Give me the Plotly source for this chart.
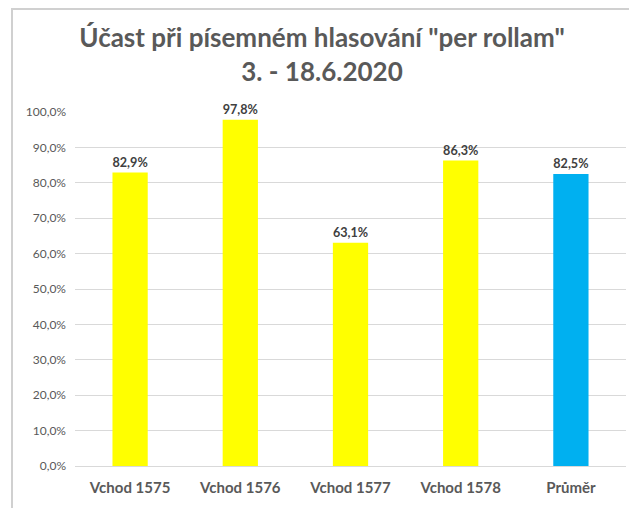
import plotly.graph_objects as go

categories = ["Vchod 1575", "Vchod 1576", "Vchod 1577", "Vchod 1578", "Průměr"]
values = [82.9, 97.8, 63.1, 86.3, 82.5]
colors = ["#FFFF00", "#FFFF00", "#FFFF00", "#FFFF00", "#00B0F0"]
labels = [f"{v:.1f}%".replace(".", ",") for v in values]
tick_vals = [0, 10, 20, 30, 40, 50, 60, 70, 80, 90, 100]
tick_text = [f"{t:.1f}%".replace(".", ",") for t in tick_vals]

W, H = 629, 508
L, R, T, B = 75, 3, 112, 42
pw, ph = W - L - R, H - T - B
FONT = "Lato"

fig = go.Figure(go.Bar(
    x=categories, y=values, marker_color=colors, marker_line_width=0,
    text=labels, textposition="outside", cliponaxis=False,
    textfont=dict(family=FONT, size=15, color="#404040", weight="bold"),
))

fig.update_layout(
    width=W, height=H,
    margin=dict(l=L, r=R, t=T, b=B),
    paper_bgcolor="white", plot_bgcolor="white",
    bargap=0.68,
    showlegend=False,
    title=dict(
        text="Účast při písemném hlasování \"per rollam\"<br>3. - 18.6.2020",
        x=(322) / W, xanchor="center", y=1 - 47 / H, yanchor="top",
        font=dict(family=FONT, size=26, color="#595959", weight="bold"),
    ),
    xaxis=dict(
        showgrid=False, showline=True, linecolor="#D9D9D9", linewidth=1,
        ticks="", tickfont=dict(family=FONT, size=15, color="#595959", weight="bold"),
        ticklabelstandoff=8,
    ),
    yaxis=dict(
        range=[0, 100], tickvals=tick_vals, ticktext=tick_text,
        showgrid=True, gridcolor="#D9D9D9", gridwidth=1, zeroline=False,
        ticks="", tickfont=dict(family=FONT, size=12, color="#595959"),
        ticklabelstandoff=8,
    ),
    shapes=[
        dict(type="line", xref="paper", yref="paper",
             x0=(12 - L) / pw, x1=(12 - L) / pw, y0=(466 - 8) / ph, y1=(466 - 520) / ph,
             line=dict(color="#D0D0D0", width=2)),
        dict(type="line", xref="paper", yref="paper",
             x0=(12 - L) / pw, x1=(629 - L) / pw, y0=(466 - 9) / ph, y1=(466 - 9) / ph,
             line=dict(color="#D0D0D0", width=2)),
    ],
)

fig.write_html(
    "out.html",
    config={"displayModeBar": False},
    post_script="document.body.style.margin='0px';document.body.style.overflow='hidden';",
)
